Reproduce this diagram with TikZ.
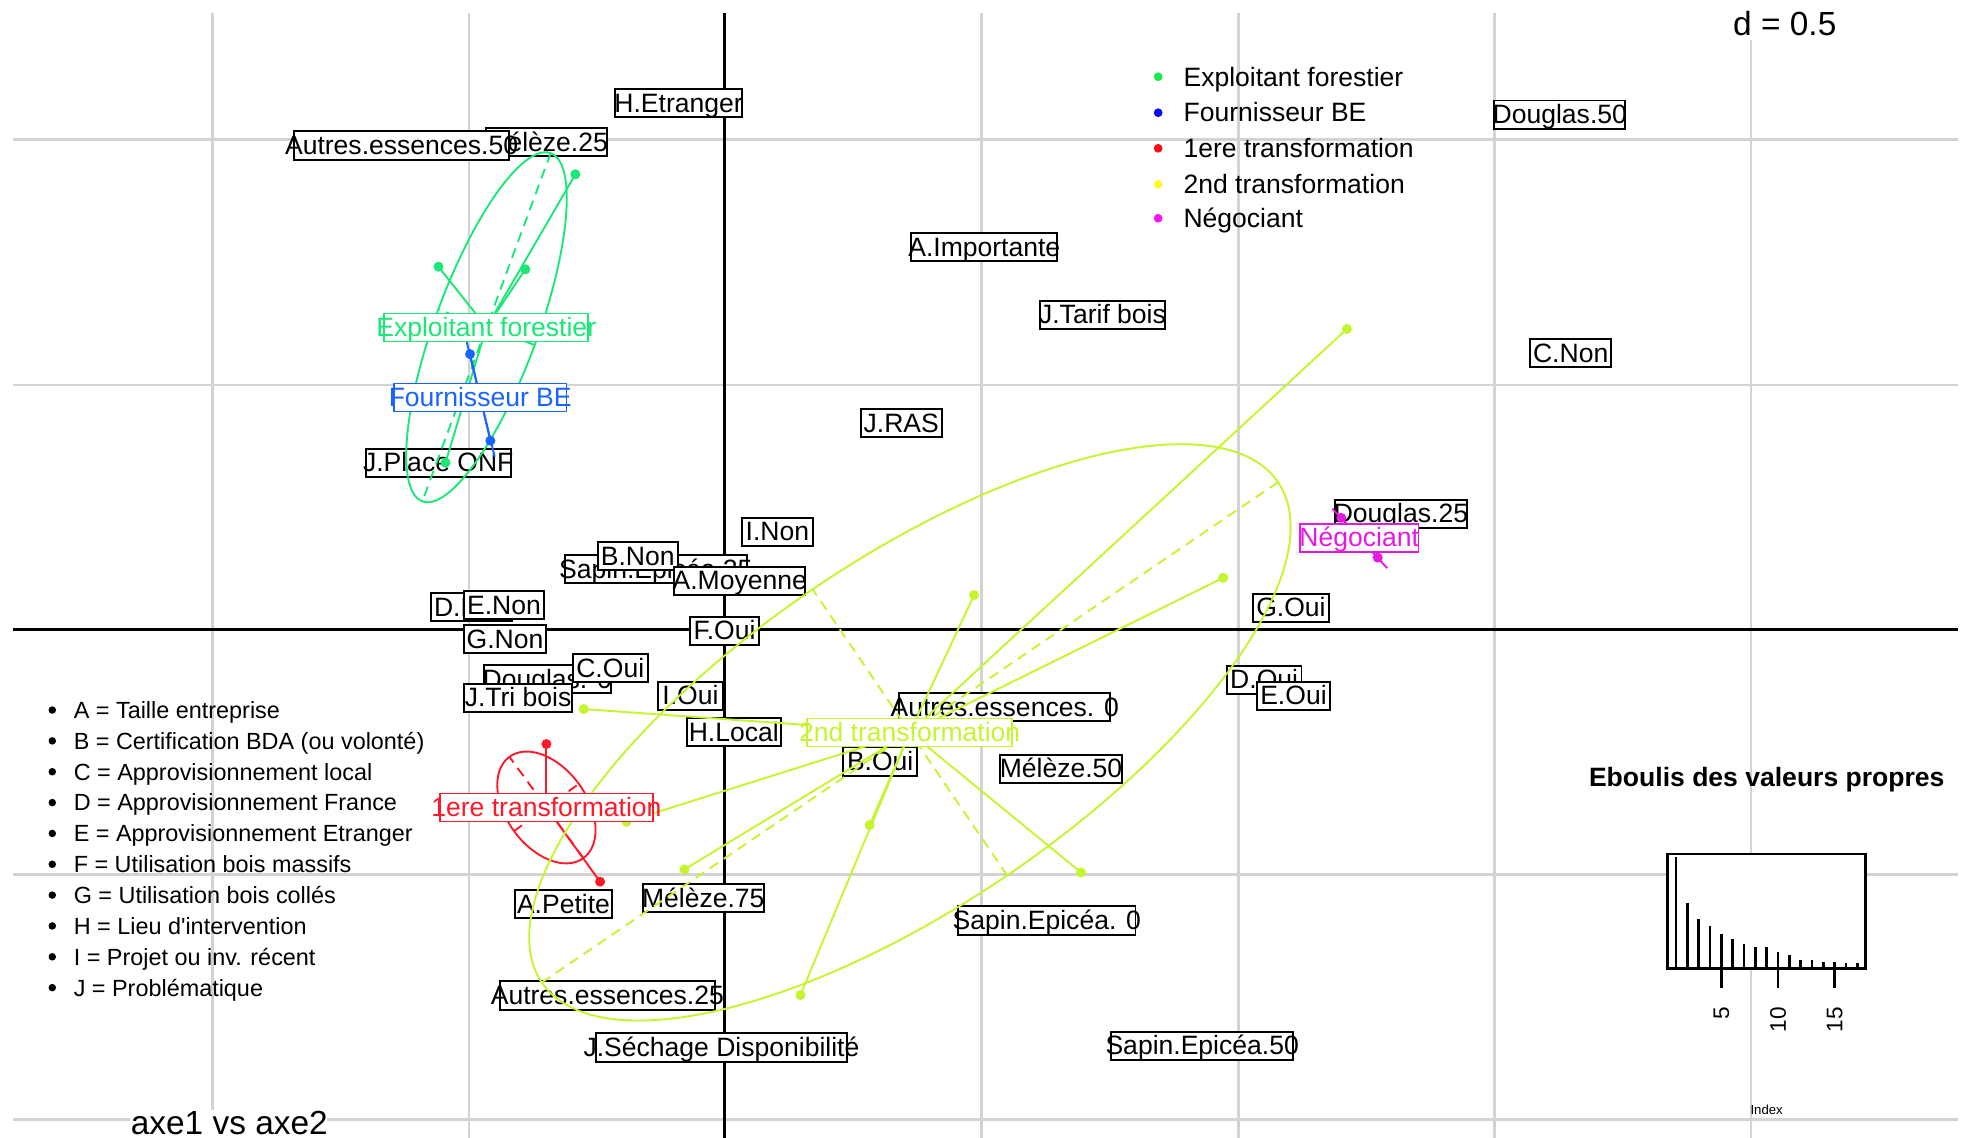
\documentclass[tikz,border=0pt]{standalone}
\usepackage{fontspec}
\setmainfont{Liberation Sans}
\definecolor{gridc}{RGB}{211,211,211}
\definecolor{cef}{RGB}{25,232,118}
\definecolor{cfb}{RGB}{25,100,255}
\definecolor{ct1}{RGB}{255,25,40}
\definecolor{ct2}{RGB}{196,245,45}
\definecolor{cneg}{RGB}{228,25,228}
\definecolor{lef}{RGB}{20,235,70}
\definecolor{lfb}{RGB}{10,10,245}
\definecolor{lt1}{RGB}{250,15,25}
\definecolor{lt2}{RGB}{250,250,40}
\definecolor{lneg}{RGB}{250,20,240}
\newcommand\lblfont{\fontsize{12.7}{15}\selectfont}
\newcommand\legfont{\fontsize{12.7}{15}\selectfont}
\newcommand\keyfont{\fontsize{11.2}{13}\selectfont}
\newcommand\bigfont{\fontsize{16}{19}\selectfont}
\newcommand\titfont{\fontsize{12.7}{15}\selectfont\bfseries}
\newcommand\tickfont{\fontsize{10.8}{13}\selectfont}
\newcommand\idxfont{\fontsize{6.3}{7.5}\selectfont}
\tikzset{
  gridl/.style={draw=gridc, line width=1.3pt},
  axisl/.style={draw=black, line width=1.4pt},
  lblbox/.style={draw=black, fill=white, line width=0.95pt, font=\lblfont,
    inner ysep=2pt, text height=9.1pt, text depth=0.4pt},
  lblmeas/.style={font=\lblfont, inner xsep=0pt, inner ysep=2pt, text height=9.1pt, text depth=0.4pt},
  grpbox/.style={lblbox, line width=0.8pt},
  starl/.style={line width=0.9pt},
  ellaxis/.style={line width=0.9pt, dash pattern=on 4.8pt off 3.3pt},
  txt/.style={inner sep=0pt, anchor=base west}
}
\newcommand\plabel[4][lblbox]{%
  \path (#3) node[lblmeas] (#2-m) {\phantom{#4}};%
  \pgfpointdiff{\pgfpointanchor{#2-m}{west}}{\pgfpointanchor{#2-m}{east}}%
  \pgfgetlastxy{\lwx}{\lwy}%
  \pgfmathsetmacro\lsep{4.1-0.0745*\lwx}%
  \node[#1, inner xsep=\lsep pt] (#2) at (#3) {#4};}
\newcommand\drawell[6]{%
  \draw[#1] plot[domain=0:356.4, samples=100, smooth cycle, variable=\t]
    ({#2+#4*cos(\t)*cos(#6)-#5*sin(\t)*sin(#6)},{#3+#4*cos(\t)*sin(#6)+#5*sin(\t)*cos(#6)});}
\begin{document}
\begin{tikzpicture}[x=0.6pt,y=-0.6pt]
\useasboundingbox (0,0) rectangle (1568,907.6);
\fill[white] (0,0) rectangle (1568,907.6);
% grid
\foreach \gx in {169.5,374,783,987.5,1192,1396.5} \draw[gridl] (\gx,10) -- (\gx,907.6);
\foreach \gy in {111.5,307,697.5,893} \draw[gridl] (10.6,\gy) -- (1561.6,\gy);
\draw[axisl] (10.6,502) -- (1561.6,502);
\draw[axisl] (578,10) -- (578,907.6);

% modality labels
\plabel{hetr}{541.2,82.1}{H.Etranger}
\plabel{mel25}{436,113.4}{Mélèze.25}
\plabel{aut50}{320.3,116}{Autres.essences.50}
\plabel{aimp}{785,197}{A.Importante}
\plabel{jtar}{879.3,251}{J.Tarif bois}
\plabel{dou50}{1244,91.4}{Douglas.50}
\plabel{cnon}{1252.7,281.8}{C.Non}
\plabel{jras}{718.8,337.4}{J.RAS}
\plabel{jplace}{349.5,369}{J.Place ONF}
\plabel{inon}{620,424.1}{I.Non}
\plabel{sap25}{523.1,454.1}{Sapin.Epicéa.25}
\plabel{bnon}{508.6,443.7}{B.Non}
\plabel{amoy}{590,463.3}{A.Moyenne}
\plabel{dnon}{376.2,484.3}{D.Non}
\plabel{enon}{402,482.5}{E.Non}
\plabel{gnon}{402.8,509.8}{G.Non}
\plabel{foui}{577.8,503.1}{F.Oui}
\plabel{dou0}{436.5,541.8}{Douglas. 0}
\plabel{coui}{486.7,533}{C.Oui}
\plabel{jtri}{413.2,556.6}{J.Tri bois}
\plabel{ioui}{550.7,555}{I.Oui}
\plabel{hloc}{585.2,583.9}{H.Local}
\plabel{boui}{702,607.4}{B.Oui}
\plabel{apet}{449.4,721}{A.Petite}
\plabel{mel75}{560.9,716.3}{Mélèze.75}
\plabel{aut25}{484.4,793.9}{Autres.essences.25}
\plabel{jsec}{575.4,835.5}{J.Séchage Disponibilité}
\plabel{aut0}{801.3,563.9}{Autres.essences. 0}
\plabel{mel50}{846.2,613.1}{Mélèze.50}
\plabel{sap0}{834.9,734.1}{Sapin.Epicéa. 0}
\plabel{sap50}{958.8,834}{Sapin.Epicéa.50}
\plabel{goui}{1029.6,484.8}{G.Oui}
\plabel{doui}{1008.2,542.1}{D.Oui}
\plabel{eoui}{1031.6,554.9}{E.Oui}
\plabel{dou25}{1117.3,409.7}{Douglas.25}

% ---- group: Exploitant forestier
\coordinate (cef) at (388,261);
\coordinate (efa) at (349.7,212.7);
\coordinate (efb) at (419,214.8);
\coordinate (efc) at (458.9,139);
\coordinate (efd) at (355.3,369);
\coordinate (efM1) at (439.2,122.1);
\coordinate (efM2) at (336.8,399.9);
\coordinate (efm1) at (426.5,275.2);
\coordinate (efm2) at (349.5,246.8);
\drawell{cef, line width=0.9pt}{388}{261}{148}{41}{-69.77}
\draw[ellaxis, cef] (efM1) -- (efM2);
\draw[ellaxis, cef] (efm1) -- (efm2);
\foreach \p in {efa,efb,efc,efd} {\draw[starl, cef] (cef) -- (\p); \fill[cef] (\p) circle (2.4pt);}

% ---- group: Fournisseur BE
\coordinate (cfb) at (383,317);
\coordinate (fba) at (374.9,282.4);
\coordinate (fbb) at (391.1,351.5);
\coordinate (fbe1) at (371.5,269.8);
\coordinate (fbe2) at (394.5,364.2);
\draw[starl, cfb] (fbe1) -- (fbe2);
\foreach \p in {fba,fbb} {\draw[starl, cfb] (cfb) -- (\p); \fill[cfb] (\p) circle (2.4pt);}

% ---- group: 1ere transformation
\coordinate (ct1) at (435.8,644);
\coordinate (t1a) at (435.8,593.4);
\coordinate (t1b) at (478.6,703.2);
\coordinate (t1M1) at (465.3,684.4);
\coordinate (t1M2) at (406.3,603.6);
\coordinate (t1m1) at (409.9,662.9);
\coordinate (t1m2) at (461.7,625.1);
\drawell{ct1, line width=0.9pt}{435.8}{644}{50}{32}{53.9}
\draw[ellaxis, ct1] (t1M1) -- (t1M2);
\draw[ellaxis, ct1] (t1m1) -- (t1m2);
\foreach \p in {t1a,t1b} {\draw[starl, ct1] (ct1) -- (\p); \fill[ct1] (\p) circle (2.4pt);}

% ---- group: 2nd transformation
\coordinate (ct2) at (725.7,584.1);
\coordinate (t2a) at (1074.2,262.4);
\coordinate (t2b) at (776.9,474.6);
\coordinate (t2c) at (975.6,460.8);
\coordinate (t2d) at (465.5,565.5);
\coordinate (t2e) at (499.6,655.4);
\coordinate (t2f) at (545.9,693.4);
\coordinate (t2g) at (693.6,658);
\coordinate (t2h) at (638.4,793.6);
\coordinate (t2i) at (862.2,695.8);
\coordinate (t2M1) at (1019.3,384.6);
\coordinate (t2M2) at (432.1,783.6);
\coordinate (t2m1) at (803.3,698.2);
\coordinate (t2m2) at (648.1,470);
\drawell{ct2, line width=0.9pt}{725.7}{584.1}{355}{138}{-34.2}
\draw[ellaxis, ct2] (t2M1) -- (t2M2);
\draw[ellaxis, ct2] (t2m1) -- (t2m2);
\foreach \p in {t2a,t2b,t2c,t2d,t2e,t2f,t2g,t2h,t2i} {\draw[starl, ct2] (ct2) -- (\p); \fill[ct2] (\p) circle (2.4pt);}

% ---- group: Negociant
\coordinate (cng) at (1084.5,429.4);
\coordinate (nga) at (1069.7,413);
\coordinate (ngb) at (1098.8,444.7);
\coordinate (nge1) at (1062.6,405.6);
\coordinate (nge2) at (1106.3,453.1);
\draw[starl, cneg] (nge1) -- (nge2);
\foreach \p in {nga,ngb} {\draw[starl, cneg] (cng) -- (\p); \fill[cneg] (\p) circle (2.4pt);}

% group labels
\plabel[grpbox, draw=cef, text=cef]{gef}{387.8,261.2}{Exploitant forestier}
\plabel[grpbox, draw=cfb, text=cfb]{gfb}{383,317}{Fournisseur BE}
\plabel[grpbox, draw=ct1, text=ct1]{gt1}{435.8,644}{1ere transformation}
\plabel[grpbox, draw=ct2, text=ct2]{gt2}{725.5,584.2}{2nd transformation}
\plabel[grpbox, draw=cneg, text=cneg]{gng}{1084,428.9}{Négociant}

% legend (groups)
\fill[lef] (923.7,61.2) circle (2.1pt);
\fill[lfb] (923.7,89.9) circle (2.1pt);
\fill[lt1] (923.7,118.3) circle (2.1pt);
\fill[lt2] (923.7,147) circle (2.1pt);
\fill[lneg] (923.7,174.1) circle (2.1pt);
\node[txt, font=\legfont] (lg1) at (943.6,68.6) {Exploitant forestier};
\node[txt, font=\legfont] (lg2) at (943.6,97.3) {Fournisseur BE};
\node[txt, font=\legfont] (lg3) at (943.6,125.7) {1ere transformation};
\node[txt, font=\legfont] (lg4) at (943.6,154.4) {2nd transformation};
\node[txt, font=\legfont] (lg5) at (943.6,181.5) {Négociant};

% key legend (left)
\foreach \yy in {566.3,590.9,615.5,640.1,664.7,689.3,713.9,738.5,763.1,787.7} \fill[black] (41.7,\yy) circle (1.8pt);
\node[txt, font=\keyfont] (k1) at (58.5,573) {A = Taille entreprise};
\node[txt, font=\keyfont] (k2) at (58.5,597.6) {B = Certification BDA (ou volonté)};
\node[txt, font=\keyfont] (k3) at (58.5,622.2) {C = Approvisionnement local};
\node[txt, font=\keyfont] (k4) at (58.5,646.8) {D = Approvisionnement France};
\node[txt, font=\keyfont] (k5) at (58.5,671.4) {E = Approvisionnement Etranger};
\node[txt, font=\keyfont] (k6) at (58.5,696) {F = Utilisation bois massifs};
\node[txt, font=\keyfont] (k7) at (58.5,720.6) {G = Utilisation bois collés};
\node[txt, font=\keyfont] (k8) at (58.5,745.2) {H = Lieu d\textquotesingle intervention};
\node[txt, font=\keyfont] (k9) at (58.5,769.8) {I = Projet ou inv. récent};
\node[txt, font=\keyfont] (k10) at (58.5,794.4) {J = Problématique};

% d = 0.5 and axes title
\fill[white] (1380,8) rectangle (1466,32);
\node[txt, font=\bigfont] (dlab) at (1382,28.7) {d = 0.5};
\fill[white] (103.7,885.3) rectangle (260.6,910);
\node[txt, font=\bigfont] (axlab) at (104,905) {axe1 vs axe2};

% scree plot
\node[txt, font=\titfont] (scrt) at (1267,627) {Eboulis des valeurs propres};
\fill[white] (1330,681.2) rectangle (1488,772.3);
\foreach \h [count=\i] in {683.8,720.5,733.3,738.6,745.2,749.2,753.2,755.6,755.6,759.6,761.5,765.4,765.4,767.5,767.5,768.3,768.3}
  \draw[line width=1.3pt] ({1336.7+(\i-1)*9.04},772.3) -- ({1336.7+(\i-1)*9.04},\h);
\draw[line width=1.3pt] (1330,681.2) rectangle (1488,772.3);
\foreach \tx in {1372.9,1418.1,1463.3} \draw[line width=1.3pt] (\tx,772.3) -- (\tx,788.3);
\node[rotate=90, anchor=east, inner sep=0pt, font=\tickfont] (tk5) at (1372.9,802.9) {5};
\node[rotate=90, anchor=east, inner sep=0pt, font=\tickfont] (tk10) at (1418.1,802.9) {10};
\node[rotate=90, anchor=east, inner sep=0pt, font=\tickfont] (tk15) at (1463.3,802.9) {15};
\node[inner sep=0pt, font=\idxfont] (idx) at (1409,885.4) {Index};
\end{tikzpicture}
\end{document}
